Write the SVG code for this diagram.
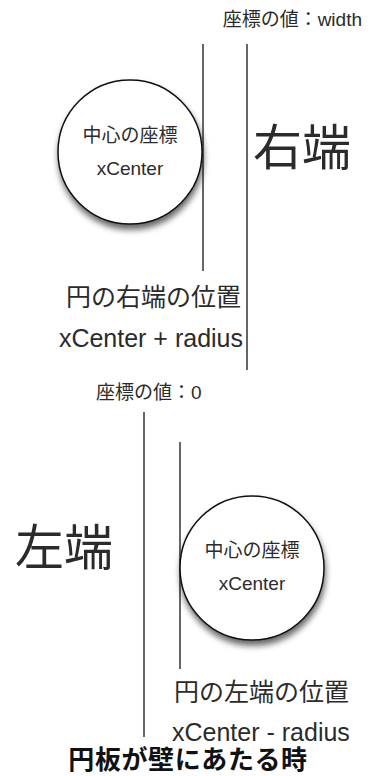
<svg xmlns="http://www.w3.org/2000/svg" width="376" height="776" viewBox="0 0 376 776">
<style>
text{font-family:"Liberation Sans","Noto Sans CJK JP",sans-serif;fill:#2b2b2b}
.s{font-size:19px}
.m{font-size:25px}
.l{font-size:49px}
.t{font-size:26px;font-weight:bold;fill:#111;letter-spacing:0.6px}
.ln{stroke:#333;stroke-width:1.5;fill:none}
.c{fill:#fff;stroke:#111;stroke-width:1.5;filter:url(#sh)}
</style>
<defs>
<filter id="sh" x="-30%" y="-30%" width="160%" height="170%">
<feGaussianBlur in="SourceAlpha" stdDeviation="3"/>
<feOffset dx="1" dy="5" result="b"/>
<feComponentTransfer><feFuncA type="linear" slope="0.6"/></feComponentTransfer>
<feMerge><feMergeNode/><feMergeNode in="SourceGraphic"/></feMerge>
</filter>
</defs>
<g id="connectors">
<line class="ln" x1="203" y1="44" x2="203" y2="271"/>
<line class="ln" x1="247" y1="44" x2="247" y2="370"/>
<line class="ln" x1="144" y1="412" x2="144" y2="737"/>
<line class="ln" x1="180" y1="442" x2="180" y2="669"/>
</g>
<g id="label-width"><text class="s" x="362" y="26" text-anchor="end">座標の値：width</text></g>
<g id="circle-right">
<circle class="c" cx="130" cy="152" r="72"/>
<text class="s" x="130" y="142" text-anchor="middle">中心の座標</text>
<text class="s" x="130" y="175" text-anchor="middle">xCenter</text>
</g>
<g id="label-right"><text class="l" x="253" y="165">右端</text></g>
<g id="label-right-pos">
<text class="m" x="241" y="306" text-anchor="end">円の右端の位置</text>
<text class="m" x="243" y="347" text-anchor="end">xCenter + radius</text>
</g>
<g id="label-zero"><text class="s" x="96" y="399">座標の値：0</text></g>
<g id="label-left"><text class="l" x="15" y="565">左端</text></g>
<g id="circle-left">
<circle class="c" cx="252" cy="568" r="72"/>
<text class="s" x="252" y="557" text-anchor="middle">中心の座標</text>
<text class="s" x="252" y="590" text-anchor="middle">xCenter</text>
</g>
<g id="label-left-pos">
<text class="m" x="174" y="701">円の左端の位置</text>
<text class="m" x="172" y="741">xCenter - radius</text>
</g>
<g id="title"><text class="t" x="188" y="769" text-anchor="middle">円板が壁にあたる時</text></g>
</svg>
